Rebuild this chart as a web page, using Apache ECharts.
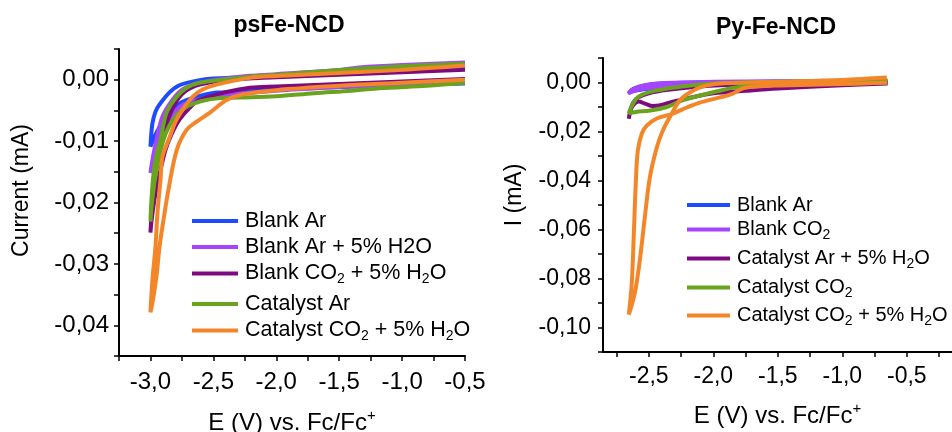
<!DOCTYPE html>
<html>
<head>
<meta charset="utf-8">
<script src="https://cdn.jsdelivr.net/npm/echarts@6/dist/echarts.min.js"></script>
<style>
  html, body { margin: 0; padding: 0; background: #fff; }
  #chart { width: 952px; height: 432px; }
</style>
</head>
<body>
<div id="chart"></div>
<script>
// ---------------- data ----------------
const panelTitles = ['psFe-NCD', 'Py-Fe-NCD'];
const yAxisNames = ['Current (mA)', 'I (mA)'];
const xAxisName = 'E (V) vs. Fc/Fc{sup|+}';

// "_2" marks a subscript 2 in the legend text
const leftNames = ['Blank Ar', 'Blank Ar + 5% H2O', 'Blank CO_2 + 5% H_2O', 'Catalyst Ar', 'Catalyst CO_2 + 5% H_2O'];
const rightNames = ['Blank Ar', 'Blank CO_2', 'Catalyst Ar + 5% H_2O', 'Catalyst CO_2', 'Catalyst CO_2 + 5% H_2O'];

// tick labels and tick marks
const leftXLabels = [-3.0, -2.5, -2.0, -1.5, -1.0, -0.5];
const leftXTicks = [-3.25, -3.0, -2.75, -2.5, -2.25, -2.0, -1.75, -1.5, -1.25, -1.0, -0.75, -0.5];
const leftYLabels = [0, -0.01, -0.02, -0.03, -0.04];
const leftYTicks = [0.005, 0, -0.005, -0.01, -0.015, -0.02, -0.025, -0.03, -0.035, -0.04, -0.045];
const rightXLabels = [-2.5, -2.0, -1.5, -1.0, -0.5];
const rightXTicks = [-2.75, -2.5, -2.25, -2.0, -1.75, -1.5, -1.25, -1.0, -0.75, -0.5, -0.25];
const rightYLabels = [0, -0.02, -0.04, -0.06, -0.08, -0.10];
const rightYTicks = [0.01, 0, -0.01, -0.02, -0.03, -0.04, -0.05, -0.06, -0.07, -0.08, -0.09, -0.10, -0.11];

// psFe-NCD cyclic voltammograms, [E (V), I (mA)]
const psBlankAr = [
  [-0.5, -0.0006], [-1.0, -0.0008], [-1.5, -0.0012], [-2.0, -0.0016], [-2.3, -0.0020],
  [-2.475, -0.0021], [-2.634, -0.0028], [-2.745, -0.0036], [-2.81, -0.0046], [-2.873, -0.0060],
  [-2.93, -0.0078], [-2.968, -0.0093], [-3.0, -0.0109],
  [-2.985, -0.0072], [-2.96, -0.0052], [-2.93, -0.0041], [-2.85, -0.0021], [-2.77, -0.0009],
  [-2.64, -0.0002], [-2.5, 0.0002], [-2.0, 0.0006], [-1.5, 0.0011], [-1.0, 0.0016], [-0.5, 0.0019]
];
const psBlankArH2O = [
  [-0.5, -0.0005], [-1.0, -0.0008], [-1.5, -0.0012], [-2.0, -0.0018], [-2.3, -0.0023],
  [-2.5, -0.0028], [-2.65, -0.0034], [-2.75, -0.0042], [-2.83, -0.0058], [-2.9, -0.0080],
  [-2.95, -0.0105], [-2.98, -0.0130], [-3.0, -0.0152],
  [-2.984, -0.0130], [-2.952, -0.0098], [-2.904, -0.0060], [-2.825, -0.0033], [-2.745, -0.0016],
  [-2.61, -0.0005], [-2.29, 0.0005], [-2.0, 0.0009], [-1.5, 0.0016], [-1.34, 0.0020],
  [-1.0, 0.0024], [-0.5, 0.0028]
];
const psBlankCO2H2O = [
  [-0.5, 0.0001], [-1.0, -0.0003], [-1.5, -0.0007], [-2.0, -0.0011], [-2.21, -0.0013],
  [-2.395, -0.0020], [-2.61, -0.0033], [-2.69, -0.0046], [-2.77, -0.0065], [-2.833, -0.0089],
  [-2.88, -0.0114], [-2.928, -0.0154], [-2.968, -0.0195], [-2.992, -0.0231], [-3.0, -0.0249],
  [-2.992, -0.0220], [-2.984, -0.0195], [-2.96, -0.0146], [-2.928, -0.0114], [-2.873, -0.0073],
  [-2.81, -0.0041], [-2.73, -0.0020], [-2.61, -0.0008], [-2.37, 0.0000], [-2.0, 0.0004],
  [-1.5, 0.0008], [-1.0, 0.0012], [-0.5, 0.0016]
];
const psCatalystAr = [
  [-0.5, -0.0005], [-0.8, -0.0010], [-1.1, -0.0013], [-1.25, -0.0015], [-1.4, -0.0018],
  [-1.7, -0.0022], [-2.0, -0.0027], [-2.3, -0.0029], [-2.45, -0.0030], [-2.6, -0.0035],
  [-2.7, -0.0043], [-2.78, -0.0055], [-2.85, -0.0075], [-2.9, -0.0100], [-2.94, -0.0135],
  [-2.97, -0.0170], [-2.99, -0.0205], [-3.0, -0.0231],
  [-2.992, -0.0195], [-2.976, -0.0154], [-2.952, -0.0122], [-2.92, -0.0098], [-2.873, -0.0054],
  [-2.793, -0.0028], [-2.713, -0.0013], [-2.61, -0.0005], [-2.43, 0.0000], [-2.21, 0.0005],
  [-2.0, 0.0008], [-1.5, 0.0016], [-1.0, 0.0022], [-0.5, 0.0026]
];
const psCatalystCO2H2O = [
  [-0.5, 0.0000], [-1.0, -0.0005], [-1.5, -0.0010], [-2.0, -0.0017], [-2.27, -0.0024],
  [-2.395, -0.0033], [-2.53, -0.0054], [-2.63, -0.0068], [-2.71, -0.0081], [-2.79, -0.0114],
  [-2.857, -0.0179], [-2.896, -0.0228], [-2.928, -0.0272], [-2.952, -0.0320], [-2.984, -0.0363],
  [-3.0, -0.0379],
  [-2.984, -0.0325], [-2.96, -0.0272], [-2.944, -0.0216], [-2.92, -0.0163], [-2.904, -0.0125],
  [-2.85, -0.0095], [-2.80, -0.0068], [-2.745, -0.0049], [-2.666, -0.0028], [-2.586, -0.0016],
  [-2.475, -0.0008], [-2.21, 0.0003], [-2.0, 0.0006], [-1.5, 0.0011], [-1.0, 0.0016], [-0.5, 0.0023]
];

// Py-Fe-NCD cyclic voltammograms, [E (V), I (mA)]
const pyBlankAr = [
  [-0.65, -0.0002], [-1.0, -0.0004], [-1.5, -0.0006], [-2.0, -0.0010], [-2.3, -0.0017],
  [-2.5, -0.0026], [-2.6, -0.0033], [-2.65, -0.0040],
  [-2.62, -0.0026], [-2.55, -0.0014], [-2.45, -0.0006], [-2.3, -0.0002], [-2.0, 0.0001],
  [-1.5, 0.0003], [-1.0, 0.0004], [-0.65, 0.0004]
];
const pyBlankCO2 = [
  [-0.65, -0.0002], [-1.0, -0.0003], [-1.5, -0.0005], [-2.0, -0.0008], [-2.3, -0.0013],
  [-2.5, -0.0022], [-2.6, -0.0032], [-2.66, -0.0045],
  [-2.63, -0.0030], [-2.57, -0.0016], [-2.47, -0.0006], [-2.3, -0.0001], [-2.0, 0.0003],
  [-1.5, 0.0005], [-1.0, 0.0005], [-0.65, 0.0005]
];
const pyCatalystArH2O = [
  [-0.65, -0.0004], [-1.0, -0.0011], [-1.5, -0.0025], [-1.75, -0.0034], [-2.0, -0.0044],
  [-2.16, -0.0060], [-2.26, -0.0072], [-2.34, -0.0082], [-2.42, -0.0094], [-2.47, -0.0096],
  [-2.53, -0.0086], [-2.58, -0.0078], [-2.62, -0.0092], [-2.645, -0.0120], [-2.655, -0.0148],
  [-2.64, -0.0110], [-2.62, -0.0082], [-2.58, -0.0060], [-2.5, -0.0044], [-2.35, -0.0030],
  [-2.15, -0.0018], [-1.9, -0.0010], [-1.5, -0.0004], [-1.0, -0.0001], [-0.65, 0.0000]
];
const pyCatalystCO2 = [
  [-0.65, -0.0001], [-1.0, -0.0004], [-1.5, -0.0008], [-1.7, -0.0012], [-1.85, -0.0022],
  [-1.97, -0.0036], [-2.1, -0.0053], [-2.24, -0.0073], [-2.36, -0.0100], [-2.49, -0.0114],
  [-2.6, -0.0120], [-2.655, -0.0125],
  [-2.63, -0.0094], [-2.6, -0.0068], [-2.55, -0.0049], [-2.45, -0.0033], [-2.3, -0.0020],
  [-2.1, -0.0008], [-1.9, -0.0002], [-1.5, 0.0003], [-1.0, 0.0006], [-0.65, 0.0008]
];
const pyCatalystCO2H2O = [
  [-0.655, 0.0020], [-1.0, 0.0010], [-1.5, 0.0003], [-1.74, 0.0000], [-1.95, -0.0004],
  [-2.081, -0.0016], [-2.182, -0.0041], [-2.26, -0.0073], [-2.322, -0.0127], [-2.391, -0.0196],
  [-2.438, -0.0265], [-2.492, -0.0388], [-2.531, -0.0551], [-2.57, -0.0727], [-2.609, -0.0861],
  [-2.655, -0.0947],
  [-2.632, -0.0820], [-2.616, -0.0616], [-2.601, -0.0412], [-2.585, -0.0278], [-2.554, -0.0208],
  [-2.516, -0.0176], [-2.438, -0.0147], [-2.314, -0.0127], [-2.205, -0.0102], [-2.105, -0.0082],
  [-1.95, -0.0061], [-1.849, -0.0045], [-1.771, -0.0024], [-1.663, -0.0016], [-1.484, -0.0012],
  [-1.0, -0.0006], [-0.655, 0.0000]
];

const leftData = [psBlankAr, psBlankArH2O, psBlankCO2H2O, psCatalystAr, psCatalystCO2H2O];
const rightData = [pyBlankAr, pyBlankCO2, pyCatalystArH2O, pyCatalystCO2, pyCatalystCO2H2O];

// ---------------- styling / layout ----------------
const FONT = '"Liberation Sans", Arial, sans-serif';
const colors = ['#1f4bff', '#a445ff', '#7e0a80', '#6aa41f', '#f4862a'];
const LINE_W = 4;

const grids = [
  { left: 119, top: 49, width: 346, height: 307 },
  { left: 603, top: 58, width: 349, height: 294 }
];
const xRanges = [[-3.25, -0.5], [-2.855, -0.15]];
const yRanges = [[-0.045, 0.005], [-0.11, 0.01]];
const panelStyle = [
  { tick: 24, name: 24, xMargin: 14, yMargin: 10, nameGapX: 54, nameGapY: 86, shiftY: 24,
    legX: 192, legW: 46, legFont: 21.5, legYs: [221, 247, 273, 304, 330] },
  { tick: 23, name: 24, xMargin: 13, yMargin: 12, nameGapX: 51, nameGapY: 77, shiftY: 20,
    legX: 687, legW: 43, legFont: 20, legYs: [205, 229, 258, 287, 315] }
];
const titlePos = [{ x: 289, y: 14 }, { x: 776, y: 16 }];

const axisColor = '#000';
const fmtX = v => (Math.abs(v) < 1e-9 ? 0 : v).toFixed(1).replace('.', ',');
const fmtY = v => (Math.abs(v) < 1e-9 ? 0 : v).toFixed(2).replace('.', ',');

function makeXAxis(i, labels, ticks) {
  const P = panelStyle[i];
  return {
    type: 'value', gridIndex: i, min: xRanges[i][0], max: xRanges[i][1],
    name: xAxisName, nameLocation: 'middle', nameGap: P.nameGapX,
    nameTextStyle: {
      fontFamily: FONT, fontSize: P.name, color: '#000', lineHeight: 26,
      rich: { sup: { fontFamily: FONT, fontSize: 15, lineHeight: 12, padding: [0, 0, 14, 0], color: '#000' } }
    },
    axisLine: { show: true, onZero: false, lineStyle: { color: axisColor, width: 2 } },
    axisTick: { show: true, inside: false, length: 5, customValues: ticks, lineStyle: { color: axisColor, width: 1.5 } },
    axisLabel: { customValues: labels, formatter: fmtX, fontFamily: FONT, fontSize: P.tick, color: '#000', margin: P.xMargin },
    splitLine: { show: false }
  };
}
function makeYAxis(i, labels, ticks) {
  const P = panelStyle[i];
  return {
    type: 'value', gridIndex: i, min: yRanges[i][0], max: yRanges[i][1],
    name: yAxisNames[i], nameLocation: 'middle', nameGap: P.nameGapY, nameRotate: 90,
    nameTextStyle: { fontFamily: FONT, fontSize: 23, color: '#000', padding: [0, 0, 0, P.shiftY] },
    axisLine: { show: true, onZero: false, lineStyle: { color: axisColor, width: 2 } },
    axisTick: { show: true, inside: false, length: 5, customValues: ticks, lineStyle: { color: axisColor, width: 1.5 } },
    axisLabel: { customValues: labels, formatter: fmtY, fontFamily: FONT, fontSize: P.tick, color: '#000', margin: P.yMargin },
    splitLine: { show: false }
  };
}

function makeSeries(names, data, idx) {
  return names.map((n, k) => ({
    name: n, type: 'line', xAxisIndex: idx, yAxisIndex: idx,
    data: data[k], showSymbol: false, symbol: 'none', smooth: 0.35,
    lineStyle: { color: colors[k], width: LINE_W }, itemStyle: { color: colors[k] },
    emphasis: { disabled: true }, z: 2 + k
  }));
}

function makeLegends(names, idx) {
  const P = panelStyle[idx];
  return names.map((n, k) => ({
    data: [n], left: P.legX, top: P.legYs[k] - 12, orient: 'horizontal',
    icon: 'rect', itemWidth: P.legW, itemHeight: 4, padding: 0, selectedMode: false,
    formatter: s => s.replace(/_2/g, '{sub|2}'),
    textStyle: {
      fontFamily: FONT, fontSize: P.legFont, color: '#000', lineHeight: 24, padding: [0, 0, 0, 2],
      rich: { sub: { fontFamily: FONT, fontSize: 14, lineHeight: 13, padding: [11, 0, 0, 0], color: '#000' } }
    }
  }));
}

const chart = echarts.init(document.getElementById('chart'), null, { renderer: 'canvas' });
chart.setOption({
  backgroundColor: '#fff',
  animation: false,
  title: panelTitles.map((t, i) => ({
    text: t, left: titlePos[i].x, top: titlePos[i].y, textAlign: 'center', padding: 0,
    textStyle: { fontFamily: FONT, fontSize: 23, fontWeight: 'bold', color: '#000' }
  })),
  grid: grids.map(g => Object.assign({ containLabel: false, outerBoundsMode: 'none' }, g)),
  xAxis: [makeXAxis(0, leftXLabels, leftXTicks), makeXAxis(1, rightXLabels, rightXTicks)],
  yAxis: [makeYAxis(0, leftYLabels, leftYTicks), makeYAxis(1, rightYLabels, rightYTicks)],
  legend: makeLegends(leftNames, 0).concat(makeLegends(rightNames, 1)),
  series: makeSeries(leftNames, leftData, 0).concat(makeSeries(rightNames, rightData, 1))
});
</script>
</body>
</html>
